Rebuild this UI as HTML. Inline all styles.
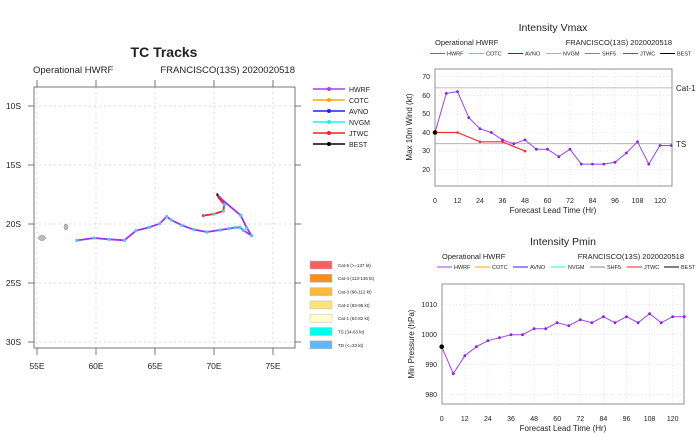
<!DOCTYPE html><html><head><style>body{margin:0;background:#fff}svg{display:block}text{font-family:"Liberation Sans",sans-serif;fill:#222}</style></head><body>
<svg width="699" height="437" viewBox="0 0 699 437" xmlns="http://www.w3.org/2000/svg">
<!-- TRACK MAP -->
<text x="164" y="57" font-size="14" font-weight="bold" text-anchor="middle">TC Tracks</text>
<text x="33" y="73" font-size="9.5">Operational HWRF</text>
<text x="295" y="73" font-size="9.5" text-anchor="end">FRANCISCO(13S) 2020020518</text>
<g stroke="#ccc" stroke-width="0.7" stroke-dasharray="2,3">
<line x1="34" x2="295" y1="106" y2="106"/><line x1="34" x2="295" y1="165" y2="165"/><line x1="34" x2="295" y1="224" y2="224"/><line x1="34" x2="295" y1="283" y2="283"/><line x1="34" x2="295" y1="342" y2="342"/>
<line y1="87" y2="348" x1="37" x2="37"/><line y1="87" y2="348" x1="96" x2="96"/><line y1="87" y2="348" x1="155" x2="155"/><line y1="87" y2="348" x1="214" x2="214"/><line y1="87" y2="348" x1="273" x2="273"/>
</g>
<rect x="34" y="87" width="261" height="261" fill="none" stroke="#777" stroke-width="1"/>
<g stroke="#777" stroke-width="1">
<line x1="28" x2="34" y1="106" y2="106"/><line x1="28" x2="34" y1="165" y2="165"/><line x1="28" x2="34" y1="224" y2="224"/><line x1="28" x2="34" y1="283" y2="283"/><line x1="28" x2="34" y1="342" y2="342"/>
<line x1="295" x2="301" y1="106" y2="106"/><line x1="295" x2="301" y1="165" y2="165"/><line x1="295" x2="301" y1="224" y2="224"/><line x1="295" x2="301" y1="283" y2="283"/><line x1="295" x2="301" y1="342" y2="342"/>
<line y1="80" y2="87" x1="37" x2="37"/><line y1="80" y2="87" x1="96" x2="96"/><line y1="80" y2="87" x1="155" x2="155"/><line y1="80" y2="87" x1="214" x2="214"/><line y1="80" y2="87" x1="273" x2="273"/>
<line y1="348" y2="355" x1="37" x2="37"/><line y1="348" y2="355" x1="96" x2="96"/><line y1="348" y2="355" x1="155" x2="155"/><line y1="348" y2="355" x1="214" x2="214"/><line y1="348" y2="355" x1="273" x2="273"/>
</g>
<g font-size="8.5" text-anchor="end"><text x="21" y="109">10S</text><text x="21" y="168">15S</text><text x="21" y="227">20S</text><text x="21" y="286">25S</text><text x="21" y="345">30S</text></g>
<g font-size="8.5" text-anchor="middle"><text x="37" y="369">55E</text><text x="96" y="369">60E</text><text x="155" y="369">65E</text><text x="214" y="369">70E</text><text x="273" y="369">75E</text></g>
<ellipse cx="42" cy="238" rx="3.5" ry="2.5" fill="#bbb" stroke="#777" stroke-width="0.5"/>
<ellipse cx="66" cy="227" rx="2" ry="3" fill="#bbb" stroke="#777" stroke-width="0.5"/>
<g transform="translate(0,30) scale(0.33333)">
<polyline vector-effect="non-scaling-stroke" fill="none" stroke="#a030f0" stroke-width="1.8" points="231,631 283,624 327,628 373,631 408,602 447,592 479,581 500,560 514,570 546,586 582,599 621,606 660,600 687,596 705,593 720,592 730,601 755,617 740,593 722,556 672,514 658,500 652,495"/>
<polyline vector-effect="non-scaling-stroke" fill="none" stroke="#f02020" stroke-width="1.8" points="610,557 642,552 670,543 673,524 655,502 652,493"/>
<polyline vector-effect="non-scaling-stroke" fill="none" stroke="#000" stroke-width="1.8" points="652,490 652,498"/>
<g fill="#4ec8f0"><circle cx="231" cy="631" r="5"/><circle cx="283" cy="624" r="5"/><circle cx="327" cy="628" r="5"/><circle cx="373" cy="631" r="5"/><circle cx="408" cy="602" r="5"/><circle cx="447" cy="592" r="5"/><circle cx="479" cy="581" r="5"/><circle cx="500" cy="560" r="5"/><circle cx="514" cy="570" r="5"/><circle cx="546" cy="586" r="5"/><circle cx="582" cy="599" r="5"/><circle cx="621" cy="606" r="5"/><circle cx="660" cy="600" r="5"/><circle cx="687" cy="596" r="5"/><circle cx="705" cy="593" r="5"/><circle cx="720" cy="592" r="5"/><circle cx="730" cy="601" r="5"/><circle cx="755" cy="617" r="5"/><circle cx="740" cy="593" r="5"/><circle cx="722" cy="556" r="5"/><circle cx="642" cy="552" r="5"/><circle cx="670" cy="543" r="5"/><circle cx="673" cy="524" r="5"/><circle cx="610" cy="557" r="5" fill="#a060c0"/></g>
</g>
<!-- track legend -->
<g stroke-width="1.5">
<line x1="313" x2="345" y1="89" y2="89" stroke="#a040f0"/><line x1="313" x2="345" y1="100" y2="100" stroke="#ffa500"/><line x1="313" x2="345" y1="111" y2="111" stroke="#2020f0"/><line x1="313" x2="345" y1="122" y2="122" stroke="#20f0f0"/><line x1="313" x2="345" y1="133" y2="133" stroke="#f02020"/><line x1="313" x2="345" y1="144" y2="144" stroke="#000"/>
</g>
<g><circle cx="329" cy="89" r="2" fill="#a040f0"/><circle cx="329" cy="100" r="2" fill="#ffa500"/><circle cx="329" cy="111" r="2" fill="#2020f0"/><circle cx="329" cy="122" r="2" fill="#20f0f0"/><circle cx="329" cy="133" r="2" fill="#f02020"/><circle cx="329" cy="144" r="2" fill="#000"/></g>
<g font-size="7"><text x="349" y="92">HWRF</text><text x="349" y="103">COTC</text><text x="349" y="114">AVNO</text><text x="349" y="125">NVGM</text><text x="349" y="136">JTWC</text><text x="349" y="147">BEST</text></g>
<g stroke="#bbb" stroke-width="0.5">
<rect x="310" y="261" width="22" height="8" fill="#f86060"/><rect x="310" y="274.3" width="22" height="8" fill="#fb8c1e"/><rect x="310" y="287.6" width="22" height="8" fill="#fbba3c"/><rect x="310" y="300.9" width="22" height="8" fill="#fde27a"/><rect x="310" y="314.2" width="22" height="8" fill="#ffffcc"/><rect x="310" y="327.5" width="22" height="8" fill="#00fff0"/><rect x="310" y="340.8" width="22" height="8" fill="#60b8f8"/>
</g>
<g font-size="4.5"><text x="338" y="267">Cat-5 (&gt;=137 kt)</text><text x="338" y="280">Cat-4 (113-136 kt)</text><text x="338" y="293.5">Cat-3 (96-112 kt)</text><text x="338" y="307">Cat-2 (83-95 kt)</text><text x="338" y="320">Cat-1 (64-82 kt)</text><text x="338" y="333.5">TS (34-63 kt)</text><text x="338" y="347">TD (&lt;=33 kt)</text></g>

<!-- VMAX -->
<text x="553" y="31" font-size="10.5" text-anchor="middle">Intensity Vmax</text>
<text x="435" y="45" font-size="7.5">Operational HWRF</text>
<text x="672" y="45" font-size="7.5" text-anchor="end">FRANCISCO(13S) 2020020518</text>
<g font-size="5.5">
<line x1="430" x2="445" y1="53.5" y2="53.5" stroke="#a040f0"/><text x="447" y="55.5">HWRF</text>
<line x1="469" x2="484" y1="53.5" y2="53.5" stroke="#ffa500"/><text x="486" y="55.5">COTC</text>
<line x1="508" x2="523" y1="53.5" y2="53.5" stroke="#2020f0"/><text x="525" y="55.5">AVNO</text>
<line x1="546" x2="561" y1="53.5" y2="53.5" stroke="#20f0f0"/><text x="563" y="55.5">NVGM</text>
<line x1="585" x2="600" y1="53.5" y2="53.5" stroke="#888"/><text x="602" y="55.5">SHF5</text>
<line x1="623" x2="638" y1="53.5" y2="53.5" stroke="#f02020"/><text x="640" y="55.5">JTWC</text>
<line x1="660" x2="675" y1="53.5" y2="53.5" stroke="#000"/><text x="677" y="55.5">BEST</text>
</g>
<g stroke="#ddd" stroke-width="0.6" stroke-dasharray="1.5,2">
<line x1="435" x2="672" y1="76.7" y2="76.7"/><line x1="435" x2="672" y1="95.3" y2="95.3"/><line x1="435" x2="672" y1="113.9" y2="113.9"/><line x1="435" x2="672" y1="132.5" y2="132.5"/><line x1="435" x2="672" y1="151.1" y2="151.1"/><line x1="435" x2="672" y1="169.7" y2="169.7"/>
<line y1="69" y2="186" x1="457.5" x2="457.5"/><line y1="69" y2="186" x1="480" x2="480"/><line y1="69" y2="186" x1="502.5" x2="502.5"/><line y1="69" y2="186" x1="525" x2="525"/><line y1="69" y2="186" x1="547.5" x2="547.5"/><line y1="69" y2="186" x1="570" x2="570"/><line y1="69" y2="186" x1="592.5" x2="592.5"/><line y1="69" y2="186" x1="615" x2="615"/><line y1="69" y2="186" x1="637.5" x2="637.5"/><line y1="69" y2="186" x1="660" x2="660"/>
</g>
<line x1="435" x2="672" y1="87.9" y2="87.9" stroke="#aaa" stroke-width="0.8"/>
<line x1="435" x2="672" y1="143.7" y2="143.7" stroke="#aaa" stroke-width="0.8"/>
<text x="676" y="91" font-size="8">Cat-1</text><text x="676" y="147" font-size="8">TS</text>
<rect x="435" y="69" width="237" height="117" fill="none" stroke="#777" stroke-width="0.8"/>
<g font-size="7" text-anchor="end"><text x="430" y="79">70</text><text x="430" y="98">60</text><text x="430" y="116">50</text><text x="430" y="135">40</text><text x="430" y="153">30</text><text x="430" y="172">20</text></g>
<g font-size="7" text-anchor="middle"><text x="435" y="203">0</text><text x="457.5" y="203">12</text><text x="480" y="203">24</text><text x="502.5" y="203">36</text><text x="525" y="203">48</text><text x="547.5" y="203">60</text><text x="570" y="203">72</text><text x="592.5" y="203">84</text><text x="615" y="203">96</text><text x="637.5" y="203">108</text><text x="660" y="203">120</text></g>
<text x="553" y="213" font-size="8" text-anchor="middle">Forecast Lead Time (Hr)</text>
<text transform="translate(412,127) rotate(-90)" font-size="8" text-anchor="middle">Max 10m Wind (kt)</text>
<polyline fill="none" stroke="#f03030" stroke-width="1.2" points="435,132.5 457.5,132.5 480,141.8 502.5,141.8 525,151.1"/>
<g fill="#f03030"><circle cx="457.5" cy="132.5" r="1.3"/><circle cx="480" cy="141.8" r="1.3"/><circle cx="502.5" cy="141.8" r="1.3"/><circle cx="525" cy="151.1" r="1.3"/></g>
<polyline id="vm" fill="none" stroke="#a040f0" stroke-width="1" points="435,132.5 446.3,93.4 457.5,91.6 468.8,117.6 480,128.8 491.3,132.5 502.5,139.9 513.8,143.7 525,139.9 536.3,149.2 547.5,149.2 558.8,156.7 570,149.2 581.3,164.1 592.5,164.1 603.8,164.1 615,162.3 626.3,153 637.5,141.8 648.8,164.1 660,145.5 671.3,145.5"/>
<g fill="#8a20e0"><circle cx="446.3" cy="93.4" r="1.4"/><circle cx="457.5" cy="91.6" r="1.4"/><circle cx="468.8" cy="117.6" r="1.4"/><circle cx="480" cy="128.8" r="1.4"/><circle cx="491.3" cy="132.5" r="1.4"/><circle cx="502.5" cy="139.9" r="1.4"/><circle cx="513.8" cy="143.7" r="1.4"/><circle cx="525" cy="139.9" r="1.4"/><circle cx="536.3" cy="149.2" r="1.4"/><circle cx="547.5" cy="149.2" r="1.4"/><circle cx="558.8" cy="156.7" r="1.4"/><circle cx="570" cy="149.2" r="1.4"/><circle cx="581.3" cy="164.1" r="1.4"/><circle cx="592.5" cy="164.1" r="1.4"/><circle cx="603.8" cy="164.1" r="1.4"/><circle cx="615" cy="162.3" r="1.4"/><circle cx="626.3" cy="153" r="1.4"/><circle cx="637.5" cy="141.8" r="1.4"/><circle cx="648.8" cy="164.1" r="1.4"/><circle cx="660" cy="145.5" r="1.4"/><circle cx="671.3" cy="145.5" r="1.4"/></g>
<circle cx="435" cy="132.5" r="2.3" fill="#000"/>

<!-- PMIN -->
<text x="563" y="245" font-size="10.5" text-anchor="middle">Intensity Pmin</text>
<text x="442" y="259" font-size="7.5">Operational HWRF</text>
<text x="684" y="259" font-size="7.5" text-anchor="end">FRANCISCO(13S) 2020020518</text>
<g font-size="5.5">
<line x1="437" x2="452" y1="267" y2="267" stroke="#a040f0"/><text x="454" y="269">HWRF</text>
<line x1="475" x2="490" y1="267" y2="267" stroke="#ffa500"/><text x="492" y="269">COTC</text>
<line x1="513" x2="528" y1="267" y2="267" stroke="#2020f0"/><text x="530" y="269">AVNO</text>
<line x1="551" x2="566" y1="267" y2="267" stroke="#20f0f0"/><text x="568" y="269">NVGM</text>
<line x1="590" x2="605" y1="267" y2="267" stroke="#888"/><text x="607" y="269">SHF5</text>
<line x1="627" x2="642" y1="267" y2="267" stroke="#f02020"/><text x="644" y="269">JTWC</text>
<line x1="664" x2="679" y1="267" y2="267" stroke="#000"/><text x="681" y="269">BEST</text>
</g>
<g stroke="#ddd" stroke-width="0.6" stroke-dasharray="1.5,2">
<line x1="442" x2="684" y1="304.7" y2="304.7"/><line x1="442" x2="684" y1="334.7" y2="334.7"/><line x1="442" x2="684" y1="364.7" y2="364.7"/><line x1="442" x2="684" y1="394.7" y2="394.7"/>
<line y1="284" y2="404" x1="464.8" x2="464.8"/><line y1="284" y2="404" x1="487.9" x2="487.9"/><line y1="284" y2="404" x1="511" x2="511"/><line y1="284" y2="404" x1="534.1" x2="534.1"/><line y1="284" y2="404" x1="557.2" x2="557.2"/><line y1="284" y2="404" x1="580.3" x2="580.3"/><line y1="284" y2="404" x1="603.4" x2="603.4"/><line y1="284" y2="404" x1="626.5" x2="626.5"/><line y1="284" y2="404" x1="649.6" x2="649.6"/><line y1="284" y2="404" x1="672.7" x2="672.7"/>
</g>
<rect x="442" y="284" width="242" height="120" fill="none" stroke="#777" stroke-width="0.8"/>
<g font-size="7" text-anchor="end"><text x="437" y="307">1010</text><text x="437" y="337">1000</text><text x="437" y="367">990</text><text x="437" y="397">980</text></g>
<g font-size="7" text-anchor="middle"><text x="441.7" y="421">0</text><text x="464.8" y="421">12</text><text x="487.9" y="421">24</text><text x="511" y="421">36</text><text x="534.1" y="421">48</text><text x="557.2" y="421">60</text><text x="580.3" y="421">72</text><text x="603.4" y="421">84</text><text x="626.5" y="421">96</text><text x="649.6" y="421">108</text><text x="672.7" y="421">120</text></g>
<text x="563" y="431" font-size="8" text-anchor="middle">Forecast Lead Time (Hr)</text>
<text transform="translate(414,344) rotate(-90)" font-size="8" text-anchor="middle">Min Pressure (hPa)</text>
<polyline fill="none" stroke="#a040f0" stroke-width="1" points="441.7,346.7 453.3,373.7 464.8,355.7 476.4,346.7 487.9,340.7 499.5,337.7 511,334.7 522.6,334.7 534.1,328.7 545.7,328.7 557.2,322.7 568.8,325.7 580.3,319.7 591.9,322.7 603.4,316.7 615,322.7 626.5,316.7 638.1,322.7 649.6,313.7 661.2,322.7 672.7,316.7 684.3,316.7"/>
<g fill="#8a20e0"><circle cx="453.3" cy="373.7" r="1.4"/><circle cx="464.8" cy="355.7" r="1.4"/><circle cx="476.4" cy="346.7" r="1.4"/><circle cx="487.9" cy="340.7" r="1.4"/><circle cx="499.5" cy="337.7" r="1.4"/><circle cx="511" cy="334.7" r="1.4"/><circle cx="522.6" cy="334.7" r="1.4"/><circle cx="534.1" cy="328.7" r="1.4"/><circle cx="545.7" cy="328.7" r="1.4"/><circle cx="557.2" cy="322.7" r="1.4"/><circle cx="568.8" cy="325.7" r="1.4"/><circle cx="580.3" cy="319.7" r="1.4"/><circle cx="591.9" cy="322.7" r="1.4"/><circle cx="603.4" cy="316.7" r="1.4"/><circle cx="615" cy="322.7" r="1.4"/><circle cx="626.5" cy="316.7" r="1.4"/><circle cx="638.1" cy="322.7" r="1.4"/><circle cx="649.6" cy="313.7" r="1.4"/><circle cx="661.2" cy="322.7" r="1.4"/><circle cx="672.7" cy="316.7" r="1.4"/><circle cx="684.3" cy="316.7" r="1.4"/></g>
<circle cx="441.7" cy="346.7" r="2.3" fill="#000"/>
</svg>
</body></html>
